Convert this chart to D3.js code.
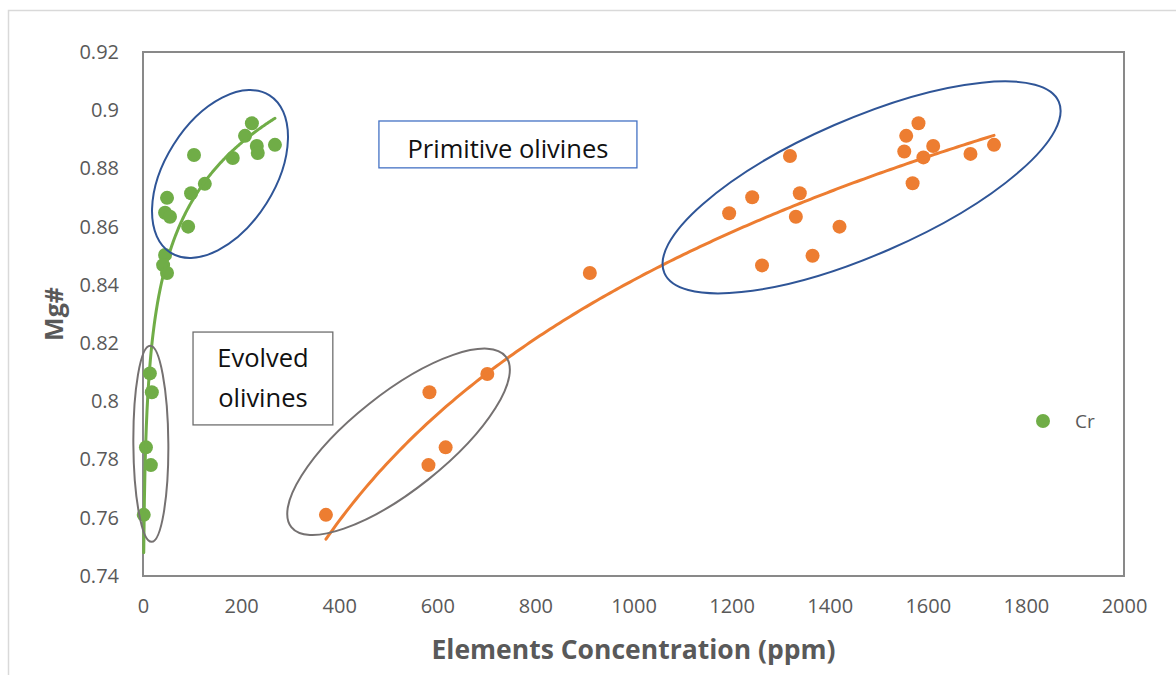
<!DOCTYPE html>
<html>
<head>
<meta charset="utf-8">
<script src="https://cdn.jsdelivr.net/npm/d3@7"></script>
<style>
  html, body { margin: 0; padding: 0; background: #fff; }
  svg { display: block; }
  text { font-family: "Open Sans", "Noto Sans", sans-serif; }
</style>
</head>
<body>
<svg id="chart" width="1176" height="675"></svg>
<script>
// Cr series (green): concentration (ppm) and Mg#
const crPpm = [222, 208, 232, 234, 269, 104, 183, 126, 98, 49, 45, 55, 92, 45, 41, 49, 14, 18, 6, 16, 1.5];
const crMg  = [0.8955, 0.8912, 0.8877, 0.8853, 0.8881, 0.8846, 0.8836, 0.8747, 0.8715, 0.8699, 0.8648,
               0.8634, 0.8600, 0.8503, 0.8468, 0.8441, 0.8096, 0.8031, 0.7842, 0.7781, 0.7610];

// Second element series (orange): concentration (ppm) and Mg#
const secondPpm = [1581, 1556, 1611, 1591, 1552, 1687, 1735, 1569, 1319, 1339, 1242, 1195, 1331, 1420,
                   1365, 1262, 911, 702, 584, 617, 582, 373];
const secondMg  = [0.8955, 0.8912, 0.8877, 0.8838, 0.8858, 0.8850, 0.8881, 0.8749, 0.8843, 0.8715, 0.8701,
                   0.8646, 0.8634, 0.8600, 0.8500, 0.8467, 0.8441, 0.8094, 0.8031, 0.7842, 0.7781, 0.7610];

// Axis ticks
const xTicks = [0, 200, 400, 600, 800, 1000, 1200, 1400, 1600, 1800, 2000];
const yTicks = [0.74, 0.76, 0.78, 0.80, 0.82, 0.84, 0.86, 0.88, 0.90, 0.92];

// Group outlines: centre in data units, radii in px, tilt in degrees
const groupOutlines = [
  { cx: 157,  cy: 0.8781, rx: 93,  ry: 55, angle: -57.8, color: "#2F5597" },
  { cx: 16,   cy: 0.7854, rx: 17.5, ry: 98, angle: -0.4, color: "#757171" },
  { cx: 521,  cy: 0.7861, rx: 137, ry: 48, angle: -38.5, color: "#757171" },
  { cx: 1465, cy: 0.8735, rx: 215, ry: 68, angle: -23.5, color: "#2F5597" }
];

// Text boxes: corners in data units, text shift in px
const labelBoxes = [
  { x0: 481, x1: 1007, y0: 0.8963, y1: 0.8802, lines: ["Primitive olivines"], color: "#4472C4", shift: 5 },
  { x0: 102, x1: 387,  y0: 0.8238, y1: 0.7919, lines: ["Evolved", "olivines"], color: "#6E6E6E", shift: 0 }
];

const svg = d3.select("#chart");

// outer chart frame
svg.append("path")
  .attr("d", "M8.5,675 V10.5 H1176")
  .attr("fill", "none").attr("stroke", "#D9D9D9").attr("stroke-width", 1.5);

const x = d3.scaleLinear().domain([0, 2000]).range([143, 1124]);
const y = d3.scaleLinear().domain([0.74, 0.92]).range([576, 52]);

// plot area border
svg.append("rect")
  .attr("x", x(0)).attr("y", y(0.92))
  .attr("width", x(2000) - x(0)).attr("height", y(0.74) - y(0.92))
  .attr("fill", "none").attr("stroke", "#898989").attr("stroke-width", 2);

// axes (labels only)
const xAxis = svg.append("g").attr("transform", `translate(0,${y(0.74)})`)
  .call(d3.axisBottom(x).tickValues(xTicks).tickSize(0).tickPadding(23).tickFormat(d3.format("d")));
const yAxis = svg.append("g").attr("transform", `translate(${x(0)},0)`)
  .call(d3.axisLeft(y).tickValues(yTicks).tickSize(0).tickPadding(24).tickFormat(d => String(+d.toFixed(2))));
[xAxis, yAxis].forEach(g => {
  g.select(".domain").remove();
  g.selectAll("text").attr("fill", "#595959").style("font-size", "20px")
    .style("font-family", '"Open Sans", sans-serif');
});

// axis titles
svg.append("text")
  .attr("x", (x(0) + x(2000)) / 2).attr("y", 659)
  .attr("text-anchor", "middle").attr("fill", "#595959")
  .style("font-size", "26.5px").style("font-weight", "bold")
  .text("Elements Concentration (ppm)");
svg.append("text")
  .attr("transform", `translate(63,${(y(0.74) + y(0.92)) / 2}) rotate(-90)`)
  .attr("text-anchor", "middle").attr("fill", "#595959")
  .style("font-size", "25px").style("font-weight", "bold")
  .text("Mg#");

// logarithmic least-squares trend: y = a ln(x) + b
function logFit(xs, ys) {
  const lx = xs.map(Math.log);
  const mx = d3.mean(lx), my = d3.mean(ys);
  let sxy = 0, sxx = 0;
  lx.forEach((v, i) => { sxy += (v - mx) * (ys[i] - my); sxx += (v - mx) * (v - mx); });
  const a = sxy / sxx;
  return { a, b: my - a * mx, min: d3.min(xs), max: d3.max(xs) };
}

const line = d3.line().x(d => x(d[0])).y(d => y(d[1]));
function trendPoints(fit) {
  const n = 200, pts = [];
  for (let i = 0; i <= n; i++) {
    const xv = fit.min + (fit.max - fit.min) * i / n;
    pts.push([xv, fit.a * Math.log(xv) + fit.b]);
  }
  return pts;
}

const series = [
  { xs: crPpm, ys: crMg, color: "#70AD47" },
  { xs: secondPpm, ys: secondMg, color: "#ED7D31" }
];

// points
series.forEach(s => {
  svg.append("g").selectAll("circle")
    .data(s.xs.map((v, i) => [v, s.ys[i]]))
    .join("circle")
    .attr("cx", d => x(d[0])).attr("cy", d => y(d[1]))
    .attr("r", 7).attr("fill", s.color);
});

// trend lines
series.forEach(s => {
  svg.append("path")
    .attr("d", line(trendPoints(logFit(s.xs, s.ys))))
    .attr("fill", "none").attr("stroke", s.color).attr("stroke-width", 3)
    .attr("stroke-linecap", "round");
});

// group outlines
svg.append("g").selectAll("ellipse")
  .data(groupOutlines).join("ellipse")
  .attr("transform", d => `translate(${x(d.cx)},${y(d.cy)}) rotate(${d.angle})`)
  .attr("rx", d => d.rx).attr("ry", d => d.ry)
  .attr("fill", "none").attr("stroke", d => d.color).attr("stroke-width", 2);

// text boxes
labelBoxes.forEach(b => {
  const g = svg.append("g");
  g.append("rect")
    .attr("x", x(b.x0)).attr("y", y(b.y0))
    .attr("width", x(b.x1) - x(b.x0)).attr("height", y(b.y1) - y(b.y0))
    .attr("fill", "#fff").attr("stroke", b.color).attr("stroke-width", 1.3);
  const cx = (x(b.x0) + x(b.x1)) / 2, cy = (y(b.y0) + y(b.y1)) / 2 + b.shift;
  const lh = 40, n = b.lines.length;
  b.lines.forEach((t, i) => {
    g.append("text")
      .attr("x", cx).attr("y", cy + (i - (n - 1) / 2) * lh)
      .attr("dy", "0.35em").attr("text-anchor", "middle")
      .attr("fill", "#111").style("font-size", "25.5px")
      .text(t);
  });
});

// legend
const legend = svg.append("g").attr("transform", "translate(1043,421)");
legend.append("circle").attr("r", 7).attr("fill", "#70AD47");
legend.append("text").attr("x", 32).attr("dy", "0.35em")
  .attr("fill", "#595959").style("font-size", "19px").text("Cr");
</script>
</body>
</html>
